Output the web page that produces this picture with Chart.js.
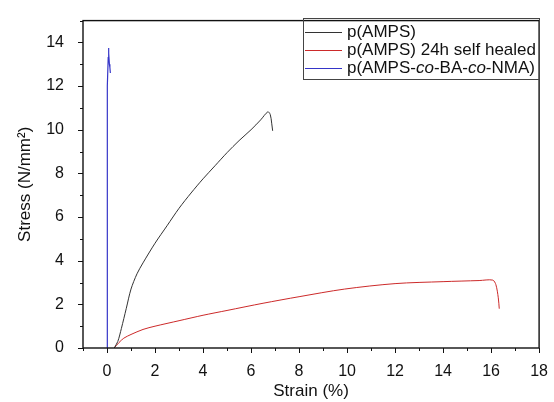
<!DOCTYPE html>
<html>
<head>
<meta charset="utf-8">
<script src="https://cdn.jsdelivr.net/npm/chart.js@4"></script>
<style>
    html, body { margin: 0; padding: 0; background: #fff; }
    #wrap { width: 554px; height: 402px; }
</style>
</head>
<body>
<div id="wrap"><canvas id="stressChart"></canvas></div>
<script>
// Series data (strain %, stress N/mm2)
const ampsStrain = [0.3, 0.45, 0.6, 0.8, 1.0, 1.25, 1.5, 2.0, 2.5, 3.0, 3.5, 4.0, 4.5, 5.0, 5.5, 6.0, 6.4, 6.7, 6.8, 6.86, 6.9];
const ampsStress = [0.0, 0.3, 0.9, 1.8, 2.7, 3.4, 3.9, 4.8, 5.6, 6.4, 7.1, 7.75, 8.35, 8.95, 9.5, 10.0, 10.45, 10.82, 10.7, 10.3, 9.95];

const healedStrain = [0.3, 0.5, 0.7, 1.0, 1.5, 2.0, 3.0, 4.0, 5.0, 6.5, 8.0, 9.9, 12.0, 14.0, 15.5, 16.07, 16.2, 16.3, 16.34];
const healedStress = [0.0, 0.25, 0.45, 0.62, 0.85, 1.0, 1.25, 1.5, 1.72, 2.05, 2.35, 2.7, 2.95, 3.04, 3.09, 3.11, 2.9, 2.3, 1.8];

const copolyStrain = [0.0, 0.0, 0.01, 0.03, 0.05, 0.06, 0.08, 0.1, 0.12, 0.14];
const copolyStress = [0.0, 5.0, 10.3, 12.0, 13.3, 13.75, 13.5, 13.0, 12.85, 12.6];

const seriesLabels = ['p(AMPS)', 'p(AMPS) 24h self healed', 'p(AMPS-co-BA-co-NMA)'];
const seriesColors = ['#333333', '#cc2a2a', '#3535c8'];

const xTicks = [0, 2, 4, 6, 8, 10, 12, 14, 16, 18];
const yTicks = [0, 2, 4, 6, 8, 10, 12, 14];

const FONT = "'Liberation Sans', Arial, sans-serif";

function toPoints(xs, ys) {
    return xs.map((x, i) => ({ x: x, y: ys[i] }));
}

// Frame, minor/major tick marks and the boxed legend, drawn like the Origin plot
const framePlugin = {
    id: 'frame',
    afterDraw(chart) {
        const { ctx, chartArea: a, scales } = chart;
        const xs = scales.x, ys = scales.y;
        ctx.save();
        ctx.strokeStyle = '#111';
        ctx.lineWidth = 1.4;
        ctx.strokeRect(a.left, a.top, a.right - a.left, a.bottom - a.top);

        ctx.lineWidth = 1;
        for (let v = -1; v <= 18; v++) {
            const px = Math.round(xs.getPixelForValue(v)) + 0.5;
            const len = v % 2 === 0 ? 5 : 3;
            ctx.beginPath();
            ctx.moveTo(px, a.bottom);
            ctx.lineTo(px, a.bottom + len);
            ctx.stroke();
        }
        for (let v = 0; v <= 15; v++) {
            const py = Math.round(ys.getPixelForValue(v)) + 0.5;
            const len = v % 2 === 0 ? 5 : 3;
            ctx.beginPath();
            ctx.moveTo(a.left, py);
            ctx.lineTo(a.left - len, py);
            ctx.stroke();
        }

        // legend box
        const bx = 303, by = 18, bw = 236, bh = 61;
        ctx.strokeStyle = '#444';
        ctx.strokeRect(bx + 0.5, by + 0.5, bw, bh);
        const rows = [32, 50, 68];
        ctx.textBaseline = 'middle';
        rows.forEach((ry, i) => {
            ctx.strokeStyle = seriesColors[i];
            ctx.lineWidth = 1;
            ctx.beginPath();
            ctx.moveTo(305, ry + 0.5);
            ctx.lineTo(342, ry + 0.5);
            ctx.stroke();
        });
        ctx.fillStyle = '#111';
        ctx.font = '17px ' + FONT;
        ctx.fillText(seriesLabels[0], 347, rows[0]);
        ctx.fillText(seriesLabels[1], 347, rows[1]);

        // third label with italic "co"
        const parts = [['p(AMPS-', false], ['co', true], ['-BA-', false], ['co', true], ['-NMA)', false]];
        let tx = 347;
        parts.forEach(([txt, it]) => {
            ctx.font = (it ? 'italic ' : '') + '17px ' + FONT;
            ctx.fillText(txt, tx, rows[2]);
            tx += ctx.measureText(txt).width;
        });
        ctx.restore();
    }
};

const ctx = document.getElementById('stressChart');
new Chart(ctx, {
    type: 'line',
    data: {
        datasets: [
            {
                label: seriesLabels[0],
                data: toPoints(ampsStrain, ampsStress),
                borderColor: seriesColors[0],
                borderWidth: 1,
                pointRadius: 0,
                tension: 0.3
            },
            {
                label: seriesLabels[1],
                data: toPoints(healedStrain, healedStress),
                borderColor: seriesColors[1],
                borderWidth: 1,
                pointRadius: 0,
                tension: 0.3
            },
            {
                label: seriesLabels[2],
                data: toPoints(copolyStrain, copolyStress),
                borderColor: seriesColors[2],
                borderWidth: 1.2,
                pointRadius: 0,
                tension: 0
            }
        ]
    },
    options: {
        responsive: true,
        maintainAspectRatio: false,
        animation: false,
        layout: {
            padding: { top: 7, right: 7, left: 0, bottom: 0 }
        },
        plugins: {
            legend: { display: false },
            tooltip: { enabled: false }
        },
        scales: {
            x: {
                type: 'linear',
                min: -1,
                max: 18,
                afterBuildTicks: (scale) => {
                    scale.ticks = xTicks.map(v => ({ value: v }));
                },
                afterFit: (scale) => { scale.height = 54; },
                grid: { display: false },
                border: { display: false },
                ticks: {
                    color: '#111',
                    padding: 6,
                    maxRotation: 0,
                    autoSkip: false,
                    font: { family: FONT, size: 16 }
                },
                title: {
                    display: true,
                    text: 'Strain (%)',
                    color: '#111',
                    padding: { top: 0, bottom: 0 },
                    font: { family: FONT, size: 17 }
                }
            },
            y: {
                type: 'linear',
                min: 0,
                max: 15,
                afterBuildTicks: (scale) => {
                    scale.ticks = yTicks.map(v => ({ value: v }));
                },
                afterFit: (scale) => { scale.width = 83; },
                grid: { display: false },
                border: { display: false },
                ticks: {
                    color: '#111',
                    padding: 11,
                    autoSkip: false,
                    font: { family: FONT, size: 16 }
                },
                title: {
                    display: true,
                    text: 'Stress (N/mm²)',
                    color: '#111',
                    padding: { top: 15, bottom: 0 },
                    font: { family: FONT, size: 17 }
                }
            }
        }
    },
    plugins: [framePlugin]
});
</script>
</body>
</html>
